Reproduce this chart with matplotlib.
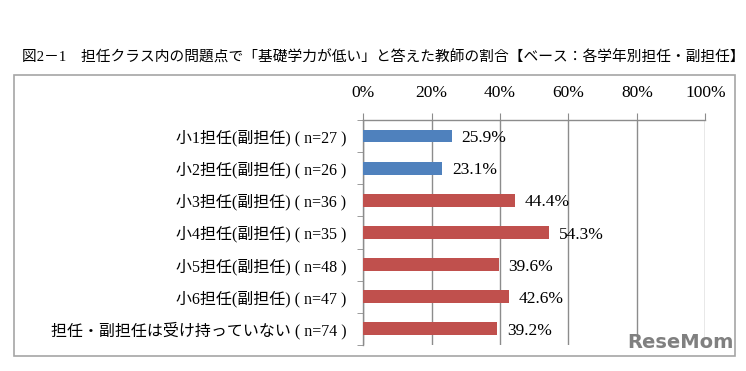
import numpy as np
import matplotlib.pyplot as plt
from matplotlib.patches import Rectangle

# ===== データ =====
categories = [
    "小1担任(副担任) ( n=27 )",
    "小2担任(副担任) ( n=26 )",
    "小3担任(副担任) ( n=36 )",
    "小4担任(副担任) ( n=35 )",
    "小5担任(副担任) ( n=48 )",
    "小6担任(副担任) ( n=47 )",
    "担任・副担任は受け持っていない ( n=74 )",
]
values = [25.9, 23.1, 44.4, 54.3, 39.6, 42.6, 39.2]
groups = ["low", "low", "high", "high", "high", "high", "none"]
xticks = [0, 20, 40, 60, 80, 100]
title = "図2－1　担任クラス内の問題点で「基礎学力が低い」と答えた教師の割合【ベース：各学年別担任・副担任】"

colors = {"low": "#4F81BD", "high": "#C0504D", "none": "#C0504D"}
FONTS = ["Liberation Serif", "Noto Sans CJK JP"]
plt.rcParams["font.family"] = FONTS
GRID = "#8c8c8c"

fig = plt.figure(figsize=(7.46, 3.71), dpi=100)
ax = fig.add_axes([0.4866, 0.0701, 0.4591, 0.6065])

y = np.arange(len(categories))
ax.barh(y, values, height=0.4, color=[colors[g] for g in groups], zorder=3)

# ラベル
for yi, v in zip(y, values):
    ax.annotate(f"{v:.1f}%", (v, yi), xytext=(7, -1.5), textcoords="offset points",
                va="center", ha="left", fontsize=12.5, zorder=4)

ax.set_xlim(0, 100)
ax.set_ylim(len(categories) - 0.5, -0.5)
ax.set_xticks(xticks)
ax.set_xticklabels([f"{t}%" for t in xticks], fontsize=12.5)
ax.xaxis.tick_top()
ax.tick_params(axis="x", length=5, color=GRID, pad=9)
ax.grid(axis="x", color=GRID, linewidth=1.0, zorder=0)

ax.set_yticks(y)
ax.set_yticklabels(categories, fontsize=11.5)
ax.set_yticks(np.arange(len(categories) + 1) - 0.5, minor=True)
ax.tick_params(axis="y", which="major", length=0, pad=12)
ax.tick_params(axis="y", which="minor", length=4, color=GRID)

for s in ["right", "bottom"]:
    ax.spines[s].set_visible(False)
for s in ["left", "top"]:
    ax.spines[s].set_color(GRID)
    ax.spines[s].set_linewidth(1.0)

# 外枠
fig.patches.append(Rectangle((0.0188, 0.0404), 0.9665, 0.7574, transform=fig.transFigure,
                             fill=False, edgecolor="#a6a6a6", linewidth=1.2))

fig.text(0.0295, 0.846, title, fontsize=10.6, va="center", ha="left")

# ウォーターマーク
fig.text(0.983, 0.05, "ReseMom", fontsize=14, fontweight="bold", color="#808080",
         ha="right", va="bottom", family=["DejaVu Sans Condensed", "DejaVu Sans"])

fig.savefig("out.png", dpi=100)
